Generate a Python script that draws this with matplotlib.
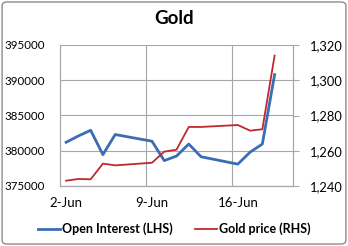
import numpy as np
import pandas as pd
import matplotlib
matplotlib.use("Agg")
from matplotlib import pyplot as plt
from matplotlib.patches import FancyBboxPatch

plt.rcParams['font.family'] = ['Lato', 'DejaVu Sans']

dates = ["2014-06-02", "2014-06-03", "2014-06-04", "2014-06-05", "2014-06-06",
         "2014-06-09", "2014-06-10", "2014-06-11", "2014-06-12", "2014-06-13",
         "2014-06-16", "2014-06-17", "2014-06-18", "2014-06-19"]
open_interest = [381200, 382100, 382900, 379450, 382300, 381350, 378600,
                 379250, 380950, 379150, 378100, 379800, 380950, 390800]
gold_price = [1243.0, 1244.0, 1243.8, 1252.7, 1251.7, 1253.2, 1259.5,
              1260.6, 1273.5, 1273.5, 1274.6, 1271.4, 1272.2, 1314.0]
tick_labels = ["2-Jun", "9-Jun", "16-Jun"]
left_ticks = [375000, 380000, 385000, 390000, 395000]
right_ticks = [1240, 1260, 1280, 1300, 1320]

blue = "#3c6db4"
red = "#c0282d"
grid_c = "#a6a6a6"

d = pd.to_datetime(dates)
x = (d - d[0]).days.values  # day offset from 2-Jun

fig = plt.figure(figsize=(3.48, 2.46), dpi=100)
ax = fig.add_axes([60/348, 1-186/246, 233/348, 141/246])
ax2 = ax.twinx()

ax.plot(x, open_interest, color=blue, lw=2.0, label="Open Interest (LHS)", zorder=3)
ax2.plot(x, gold_price, color=red, lw=1.3, label="Gold price (RHS)", zorder=3)

ax.set_xlim(-0.5, 18.5)
ax.set_ylim(375000, 395000)
ax2.set_ylim(1240, 1320)

# labels centred on day slot, gridlines on slot edges
ax.set_xticks([0, 7, 14])
ax.set_xticklabels(tick_labels)
ax.set_xticks([6.5, 13.5], minor=True)
ax.tick_params(axis='x', which='both', length=0, pad=8, labelsize=9.5)
ax.grid(axis='x', which='minor', color=grid_c, lw=0.8)

ax.set_yticks(left_ticks)
ax.set_yticklabels([str(v) for v in left_ticks])
ax.tick_params(axis='y', length=0, pad=11, labelsize=8.3)
ax.grid(axis='y', color=grid_c, lw=0.8)

ax2.set_yticks(right_ticks)
ax2.set_yticklabels([f"{v:,}" for v in right_ticks])
ax2.tick_params(axis='y', length=4, width=0.8, color=grid_c, pad=8, labelsize=9.3)

for a in (ax, ax2):
    a.spines["top"].set_visible(False)
    for s in ("left", "right", "bottom"):
        a.spines[s].set_color(grid_c)
        a.spines[s].set_linewidth(0.8)
    a.set_facecolor("none")

fig.text(0.5, 1-19/246, "Gold", ha="center", va="center", fontsize=13.5, fontweight="bold")

h1, l1 = ax.get_legend_handles_labels()
h2, l2 = ax2.get_legend_handles_labels()
leg = fig.legend(h1 + h2, l1 + l2, loc="center", bbox_to_anchor=(0.5, 1-229/246),
                 ncol=2, frameon=False, handlelength=1.8, handletextpad=0.1,
                 columnspacing=1.8, prop={"size": 9, "weight": "bold"})

fig.patches.append(FancyBboxPatch((0.006, 0.008), 0.988, 0.984,
                                  boxstyle="round,pad=0,rounding_size=0.015",
                                  transform=fig.transFigure, fill=False,
                                  edgecolor="#8c8c8c", lw=1.0))

fig.savefig("out.png", dpi=100)
